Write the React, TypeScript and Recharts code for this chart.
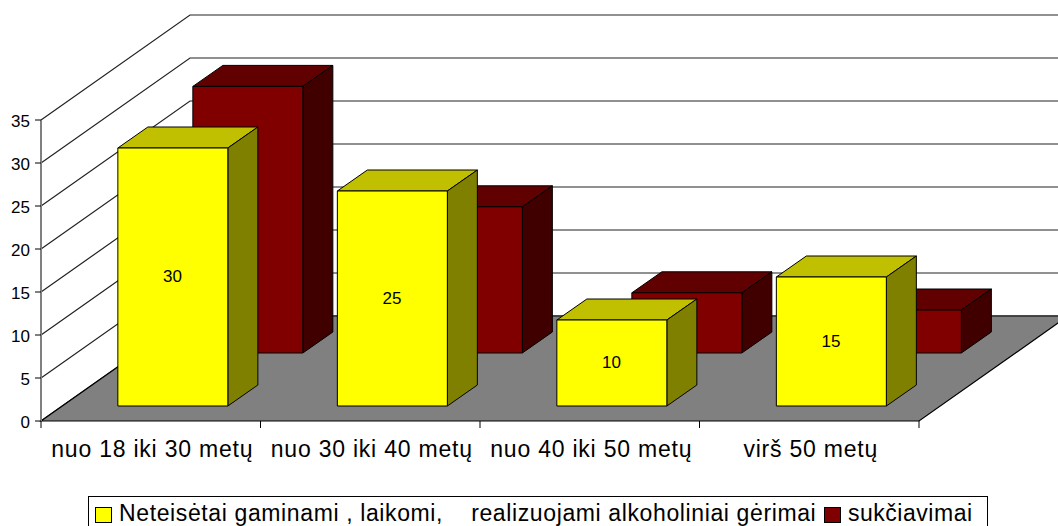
import { Bar, BarChart, CartesianGrid, LabelList, ReferenceArea, XAxis, YAxis } from "recharts"

const CATEGORIES = ["nuo 18 iki 30 metų", "nuo 30 iki 40 metų", "nuo 40 iki 50 metų", "virš 50 metų"]
const ILLEGAL_ALCOHOL = [30, 25, 10, 15]
const FRAUD = [31, 17, 7, 5]
const Y_TICKS = [0, 5, 10, 15, 20, 25, 30, 35]

const LEGEND_ALCOHOL = "Neteisėtai gaminami , laikomi,    realizuojami alkoholiniai gėrimai"
const LEGEND_FRAUD = "sukčiavimai"

const FONT = '"Liberation Sans", Arial, sans-serif'
const WALL_DX = 149
const WALL_DY = 105
const BAR_DX = 30
const BAR_DY = 21

const data = CATEGORIES.map((name, i) => ({
  name,
  alcohol: ILLEGAL_ALCOHOL[i],
  fraud: FRAUD[i],
}))

// draws a front face plus top and side, shifted back into the "depth" of the chart
function box(offsetX: number, offsetY: number, front: string, top: string, side: string) {
  return function BoxShape(props: any) {
    const x = props.x + offsetX
    const y = props.y + offsetY
    const { width: w, height: h } = props
    return (
      <g stroke="#000" strokeWidth={1} strokeLinejoin="round">
        <polygon points={`${x},${y} ${x + w},${y} ${x + w + BAR_DX},${y - BAR_DY} ${x + BAR_DX},${y - BAR_DY}`} fill={top} />
        <polygon points={`${x + w},${y} ${x + w + BAR_DX},${y - BAR_DY} ${x + w + BAR_DX},${y + h - BAR_DY} ${x + w},${y + h}`} fill={side} />
        <rect x={x} y={y} width={w} height={h} fill={front} />
      </g>
    )
  }
}

function GridLine(props: any) {
  const { x1, x2, y1 } = props
  return (
    <polyline
      points={`${x1},${y1} ${x1 + WALL_DX},${y1 - WALL_DY} ${x2 + WALL_DX},${y1 - WALL_DY}`}
      fill="none"
      stroke="#222"
      strokeWidth={1.2}
    />
  )
}

function Floor(props: any) {
  const { x, y, width: w, height: h } = props
  const b = y + h
  return (
    <g>
      <polygon
        points={`${x},${b} ${x + w},${b} ${x + w + WALL_DX},${b - WALL_DY} ${x + WALL_DX},${b - WALL_DY}`}
        fill="#808080"
      />
      <polyline points={`${x + WALL_DX},${b - WALL_DY} ${x},${b} ${x + w},${b} ${x + w + WALL_DX},${b - WALL_DY}`} fill="none" stroke="#000" strokeWidth={1.2} />
      <line x1={x + WALL_DX} y1={b - WALL_DY} x2={x + w + WALL_DX} y2={b - WALL_DY} stroke="#000" strokeWidth={1.2} />
    </g>
  )
}

function CategoryTick(props: any) {
  const { x, y, payload, index, visibleTicksCount } = props
  const band = 878 / CATEGORIES.length
  const base = y - 8
  return (
    <g>
      <line x1={x - band / 2} y1={base} x2={x - band / 2} y2={base + 7} stroke="#000" />
      {index === visibleTicksCount - 1 && <line x1={x + band / 2} y1={base} x2={x + band / 2} y2={base + 7} stroke="#000" />}
      <text x={x + 1.5} y={base + 36} textAnchor="middle" fontFamily={FONT} fontSize={23} letterSpacing={0.78} fill="#000">
        {payload.value}
      </text>
    </g>
  )
}

function ValueLabel(props: any) {
  const { x, y, width, height, value } = props
  return (
    <text x={x + width / 2 + 21.5} y={y + height / 2 - 15 + 5} textAnchor="middle" fontFamily={FONT} fontSize={17} fill="#000">
      {value}
    </text>
  )
}

function Swatch({ color, left }: { color: string; left: number }) {
  return (
    <span
      style={{
        position: "absolute",
        left,
        top: 10,
        width: 15,
        height: 14,
        background: color,
        border: "1px solid #000",
      }}
    />
  )
}

export default function App() {
  return (
    <div style={{ position: "absolute", left: 0, top: 0, width: 1058, height: 526, overflow: "hidden", background: "#fff" }}>
      <BarChart
        width={1058}
        height={526}
        data={data}
        margin={{ top: 120, right: 139, bottom: 0, left: 0 }}
        barSize={110}
        barGap={-110}
        barCategoryGap={0}
      >
        <CartesianGrid vertical={false} horizontal={GridLine} stroke="#222" />
        <ReferenceArea y1={0} y2={35} shape={Floor} ifOverflow="visible" />
        <XAxis dataKey="name" height={105} axisLine={false} tickLine={false} tick={CategoryTick} interval={0} />
        <YAxis
          width={41}
          domain={[0, 35]}
          ticks={Y_TICKS}
          interval={0}
          axisLine={{ stroke: "#808080", strokeWidth: 2 }}
          tickLine={{ stroke: "#000" }}
          tickSize={6}
          tickMargin={5}
          tick={{ fontFamily: FONT, fontSize: 17, fill: "#000", dy: 1 }}
        />
        <Bar dataKey="fraud" isAnimationActive={false} shape={box(96.85, -68, "#800000", "#600000", "#400000")} />
        <Bar dataKey="alcohol" isAnimationActive={false} shape={box(21.85, -15, "#ffff00", "#c0c000", "#808000")}>
          <LabelList dataKey="alcohol" content={ValueLabel} />
        </Bar>
      </BarChart>
      <div
        style={{
          position: "absolute",
          left: 88,
          top: 496,
          width: 900,
          height: 40,
          boxSizing: "border-box",
          border: "1px solid #000",
          fontFamily: FONT,
          fontSize: 23,
          letterSpacing: 0.62,
          color: "#000",
          whiteSpace: "pre",
        }}
      >
        <Swatch color="#ffff00" left={6} />
        <span style={{ position: "absolute", left: 30, top: 3 }}>{LEGEND_ALCOHOL}</span>
        <Swatch color="#800000" left={735} />
        <span style={{ position: "absolute", left: 759, top: 3, letterSpacing: 0.52 }}>{LEGEND_FRAUD}</span>
      </div>
    </div>
  )
}
